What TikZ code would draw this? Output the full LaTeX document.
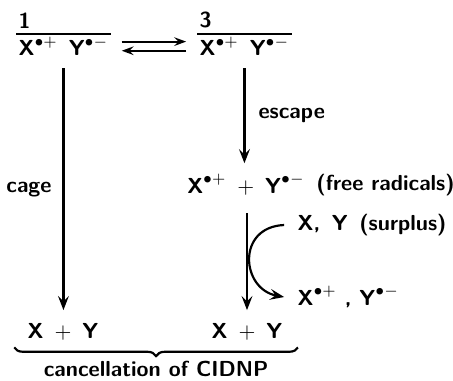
\documentclass[tikz,border=0pt]{standalone}
\usepackage{amsmath}
\usetikzlibrary{positioning,arrows.meta,decorations.pathreplacing}
\tikzset{species/.style={font=\sffamily\bfseries,inner sep=1pt},mult/.style={species,anchor=south west,inner ysep=2.4pt},rxn/.style={draw,line width=1pt,-{Stealth[length=6.5pt,width=5pt,inset=2.5pt]}},eqm/.style={draw,line width=1pt,-{Stealth[length=5.5pt,width=4pt,inset=2pt]},shorten <=5pt,shorten >=5pt},bar/.style={draw,line width=1pt}}
\newcommand{\cation}{\text{X}^{\bullet+}}
\newcommand{\anion}{\text{Y}^{\bullet-}}

\begin{document}
\begin{tikzpicture}[x=.46pt,y=-.46pt]
\useasboundingbox (0,0) rectangle (453,380);
% radical pairs, singlet and triplet
\node[species,anchor=north west] (pS) at (16,34) {$\cation\enspace\anion$};
\node[species,anchor=north west] (pT) at (197,34) {$\cation\enspace\anion$};
\node[mult] (mS) at (pS.north west) {1};
\node[mult] (mT) at (pT.north west) {3};
\draw[bar] (pS.north west) -- (pS.north east);
\draw[bar] (pT.north west) -- (pT.north east);
\draw[eqm,transform canvas={yshift=2.1pt}] (pS) -- (pT);
\draw[eqm,transform canvas={yshift=-2.1pt}] (pT) -- (pS);
% free radicals and exchange
\node[species] (fr) at (246,185) {$\cation\;+\;\anion$};
\node[species,right=3pt of fr] (frl) {(free radicals)};
\node[species,anchor=west] (sur) at (295,225) {X,\, Y\, (surplus)};
\node[species,anchor=west] (rp) at (295,297) {$\cation$ , $\anion$};
% products
\node[species] (prS) at (63,332) {$\text{X}\;+\;\text{Y}$};
\node[species] (prT) at (247,332) {$\text{X}\;+\;\text{Y}$};
\draw[rxn,shorten <=4.5pt,shorten >=5pt] (pS.south) -- (pS.south |- prS.north) node[midway,left=4pt,species] (cage) {cage};
\draw[rxn,shorten <=4.5pt,shorten >=4pt] (pT.south) -- (pT.south |- fr.north) node[midway,right=5pt,species] (esc) {escape};
\draw[rxn,shorten <=7pt,shorten >=5pt] (prT |- fr.south) -- (prT.north);
\draw[rxn] ([xshift=-5pt]sur.west) .. controls +(-48,2) and +(-43,-8) .. ([xshift=-5pt]rp.west);
\draw[bar,decorate,decoration={brace,mirror,amplitude=4pt}] ([xshift=-5pt,yshift=-2pt]prS.south west) -- ([xshift=6pt,yshift=-2pt]prT.south east) node[midway,below=5pt,species] (cc) {cancellation of CIDNP};
\end{tikzpicture}
\end{document}
